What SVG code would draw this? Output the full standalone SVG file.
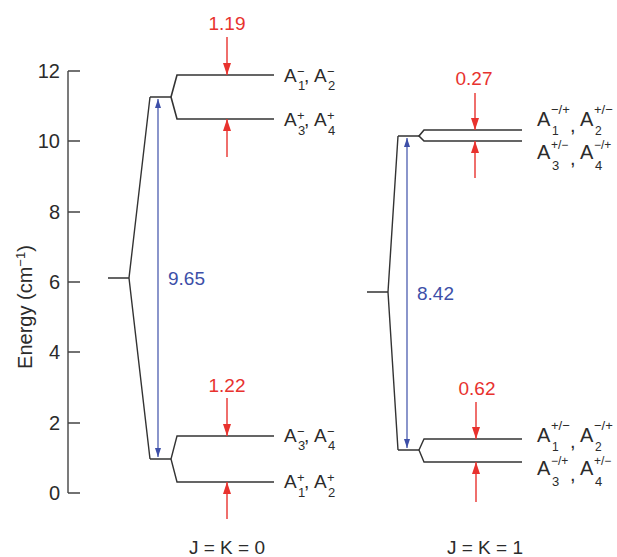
<svg xmlns="http://www.w3.org/2000/svg" width="617" height="557" viewBox="0 0 617 557">
<style>
text{font-family:"Liberation Sans",Arial,sans-serif;fill:#2b2b2b}
.tk{font-size:20px}
.t{font-size:19px}
.r{font-size:20px}
.s{font-size:13px}
.q{font-size:12px}
.red{fill:#e8322e;font-size:19px}
.blue{fill:#3d4fa8;font-size:19px}
.lv{fill:none;stroke:#333;stroke-width:1.4;stroke-linejoin:miter}
.ax{fill:none;stroke:#444;stroke-width:1.4}
.ra{stroke:#e8322e;stroke-width:1.4;marker-end:url(#rh)}
.ba{stroke:#3d4fa8;stroke-width:1.2;marker-start:url(#bh);marker-end:url(#bh)}
</style>
<defs>
<marker id="rh" markerUnits="userSpaceOnUse" markerWidth="12" markerHeight="8" refX="12" refY="4" orient="auto"><path d="M0,0 L12,4 L0,8 z" fill="#e8322e"/></marker>
<marker id="bh" markerUnits="userSpaceOnUse" markerWidth="9" markerHeight="6" refX="9" refY="3" orient="auto-start-reverse"><path d="M0,0 L9,3 L0,6 z" fill="#3d4fa8"/></marker>
</defs>
<rect width="617" height="557" fill="#fff"/>
<g id="axis">
<path class="ax" d="M68,71 V493 M68,71 H80 M68,141 H80 M68,212 H80 M68,282 H80 M68,352 H80 M68,423 H80 M68,493 H80"/>
<g class="tk" text-anchor="end">
<text x="60" y="78">12</text>
<text x="60" y="148">10</text>
<text x="60" y="219">8</text>
<text x="60" y="289">6</text>
<text x="60" y="359">4</text>
<text x="60" y="430">2</text>
<text x="60" y="500">0</text>
</g>
<text class="tk" transform="translate(32,307) rotate(-90)" text-anchor="middle">Energy (cm<tspan class="s" dy="-7">−1</tspan><tspan dy="7">)</tspan></text>
</g>
<g id="connectors">
<path class="lv" d="M108,278 H129 M150,97 L129,278 L150,459 M150,97 H171 M150,459 H171"/>
<path class="lv" d="M274,75 H177 L171,97 L177,119 H274" style="stroke-width:1.6"/>
<path class="lv" d="M274,436 H177 L171,459 L177,482 H274"/>
<path class="lv" d="M367,292 H388 M398,136 L388,292 L398,450 M398,136 H419 M398,450 H419"/>
<path class="lv" d="M522,130 H424 L419,136 L424,141 H522" style="stroke-width:1.6"/>
<path class="lv" d="M522,439 H424 L419,450 L424,462 H522"/>
<line class="ba" x1="158" y1="99" x2="158" y2="457"/>
<line class="ba" x1="407" y1="138" x2="407" y2="448"/>
<line class="ra" x1="227" y1="37" x2="227" y2="75"/>
<line class="ra" x1="227" y1="157" x2="227" y2="119"/>
<line class="ra" x1="227" y1="398" x2="227" y2="436"/>
<line class="ra" x1="227" y1="519" x2="227" y2="482"/>
<line class="ra" x1="475" y1="93" x2="475" y2="130"/>
<line class="ra" x1="475" y1="178" x2="475" y2="141"/>
<line class="ra" x1="476" y1="402" x2="476" y2="439"/>
<line class="ra" x1="476" y1="502" x2="476" y2="462"/>
</g>
<g id="values">
<text class="red" x="227" y="30" text-anchor="middle">1.19</text>
<text class="red" x="227" y="392" text-anchor="middle">1.22</text>
<text class="red" x="474" y="85" text-anchor="middle">0.27</text>
<text class="red" x="477" y="395" text-anchor="middle">0.62</text>
<text class="blue" x="168" y="285">9.65</text>
<text class="blue" x="417" y="300">8.42</text>
</g>
<g id="label-L1">
<text class="t" x="284" y="82">A</text><text class="s" x="297" y="76">−</text><text class="s" x="298" y="90">1</text>
<text class="t" x="304" y="82">,</text>
<text class="t" x="314" y="82">A</text><text class="s" x="327" y="76">−</text><text class="s" x="328" y="90">2</text>
</g>
<g id="label-L2">
<text class="t" x="284" y="126">A</text><text class="s" x="297" y="120">+</text><text class="s" x="298" y="135">3</text>
<text class="t" x="304" y="126">,</text>
<text class="t" x="314" y="126">A</text><text class="s" x="327" y="120">+</text><text class="s" x="328" y="135">4</text>
</g>
<g id="label-L3">
<text class="t" x="284" y="442">A</text><text class="s" x="297" y="436">−</text><text class="s" x="298" y="450">3</text>
<text class="t" x="304" y="442">,</text>
<text class="t" x="314" y="442">A</text><text class="s" x="327" y="436">−</text><text class="s" x="328" y="450">4</text>
</g>
<g id="label-L4">
<text class="t" x="284" y="488">A</text><text class="s" x="297" y="482">+</text><text class="s" x="298" y="497">1</text>
<text class="t" x="304" y="488">,</text>
<text class="t" x="314" y="488">A</text><text class="s" x="327" y="482">+</text><text class="s" x="328" y="497">2</text>
</g>
<g id="label-R1">
<text class="r" x="537" y="126">A</text><text class="s" x="551" y="114">−/+</text><text class="q" x="552" y="135">1</text>
<text class="r" x="570" y="132">,</text>
<text class="r" x="580" y="126">A</text><text class="s" x="594" y="114">+/−</text><text class="q" x="595" y="135">2</text>
</g>
<g id="label-R2">
<text class="r" x="537" y="159">A</text><text class="q" x="551" y="149">+/−</text><text class="s" x="552" y="170">3</text>
<text class="r" x="570" y="165">,</text>
<text class="r" x="580" y="159">A</text><text class="q" x="594" y="149">−/+</text><text class="s" x="595" y="170">4</text>
</g>
<g id="label-R3">
<text class="r" x="537" y="442">A</text><text class="s" x="551" y="430">+/−</text><text class="q" x="552" y="451">1</text>
<text class="r" x="570" y="448">,</text>
<text class="r" x="580" y="442">A</text><text class="s" x="594" y="430">−/+</text><text class="q" x="595" y="451">2</text>
</g>
<g id="label-R4">
<text class="r" x="537" y="475">A</text><text class="q" x="551" y="465">−/+</text><text class="s" x="552" y="486">3</text>
<text class="r" x="570" y="481">,</text>
<text class="r" x="580" y="475">A</text><text class="q" x="594" y="465">+/−</text><text class="s" x="595" y="486">4</text>
</g>
<g id="titles">
<text class="t" x="227" y="554" text-anchor="middle">J = K = 0</text>
<text class="t" x="485" y="554" text-anchor="middle">J = K = 1</text>
</g>
</svg>
